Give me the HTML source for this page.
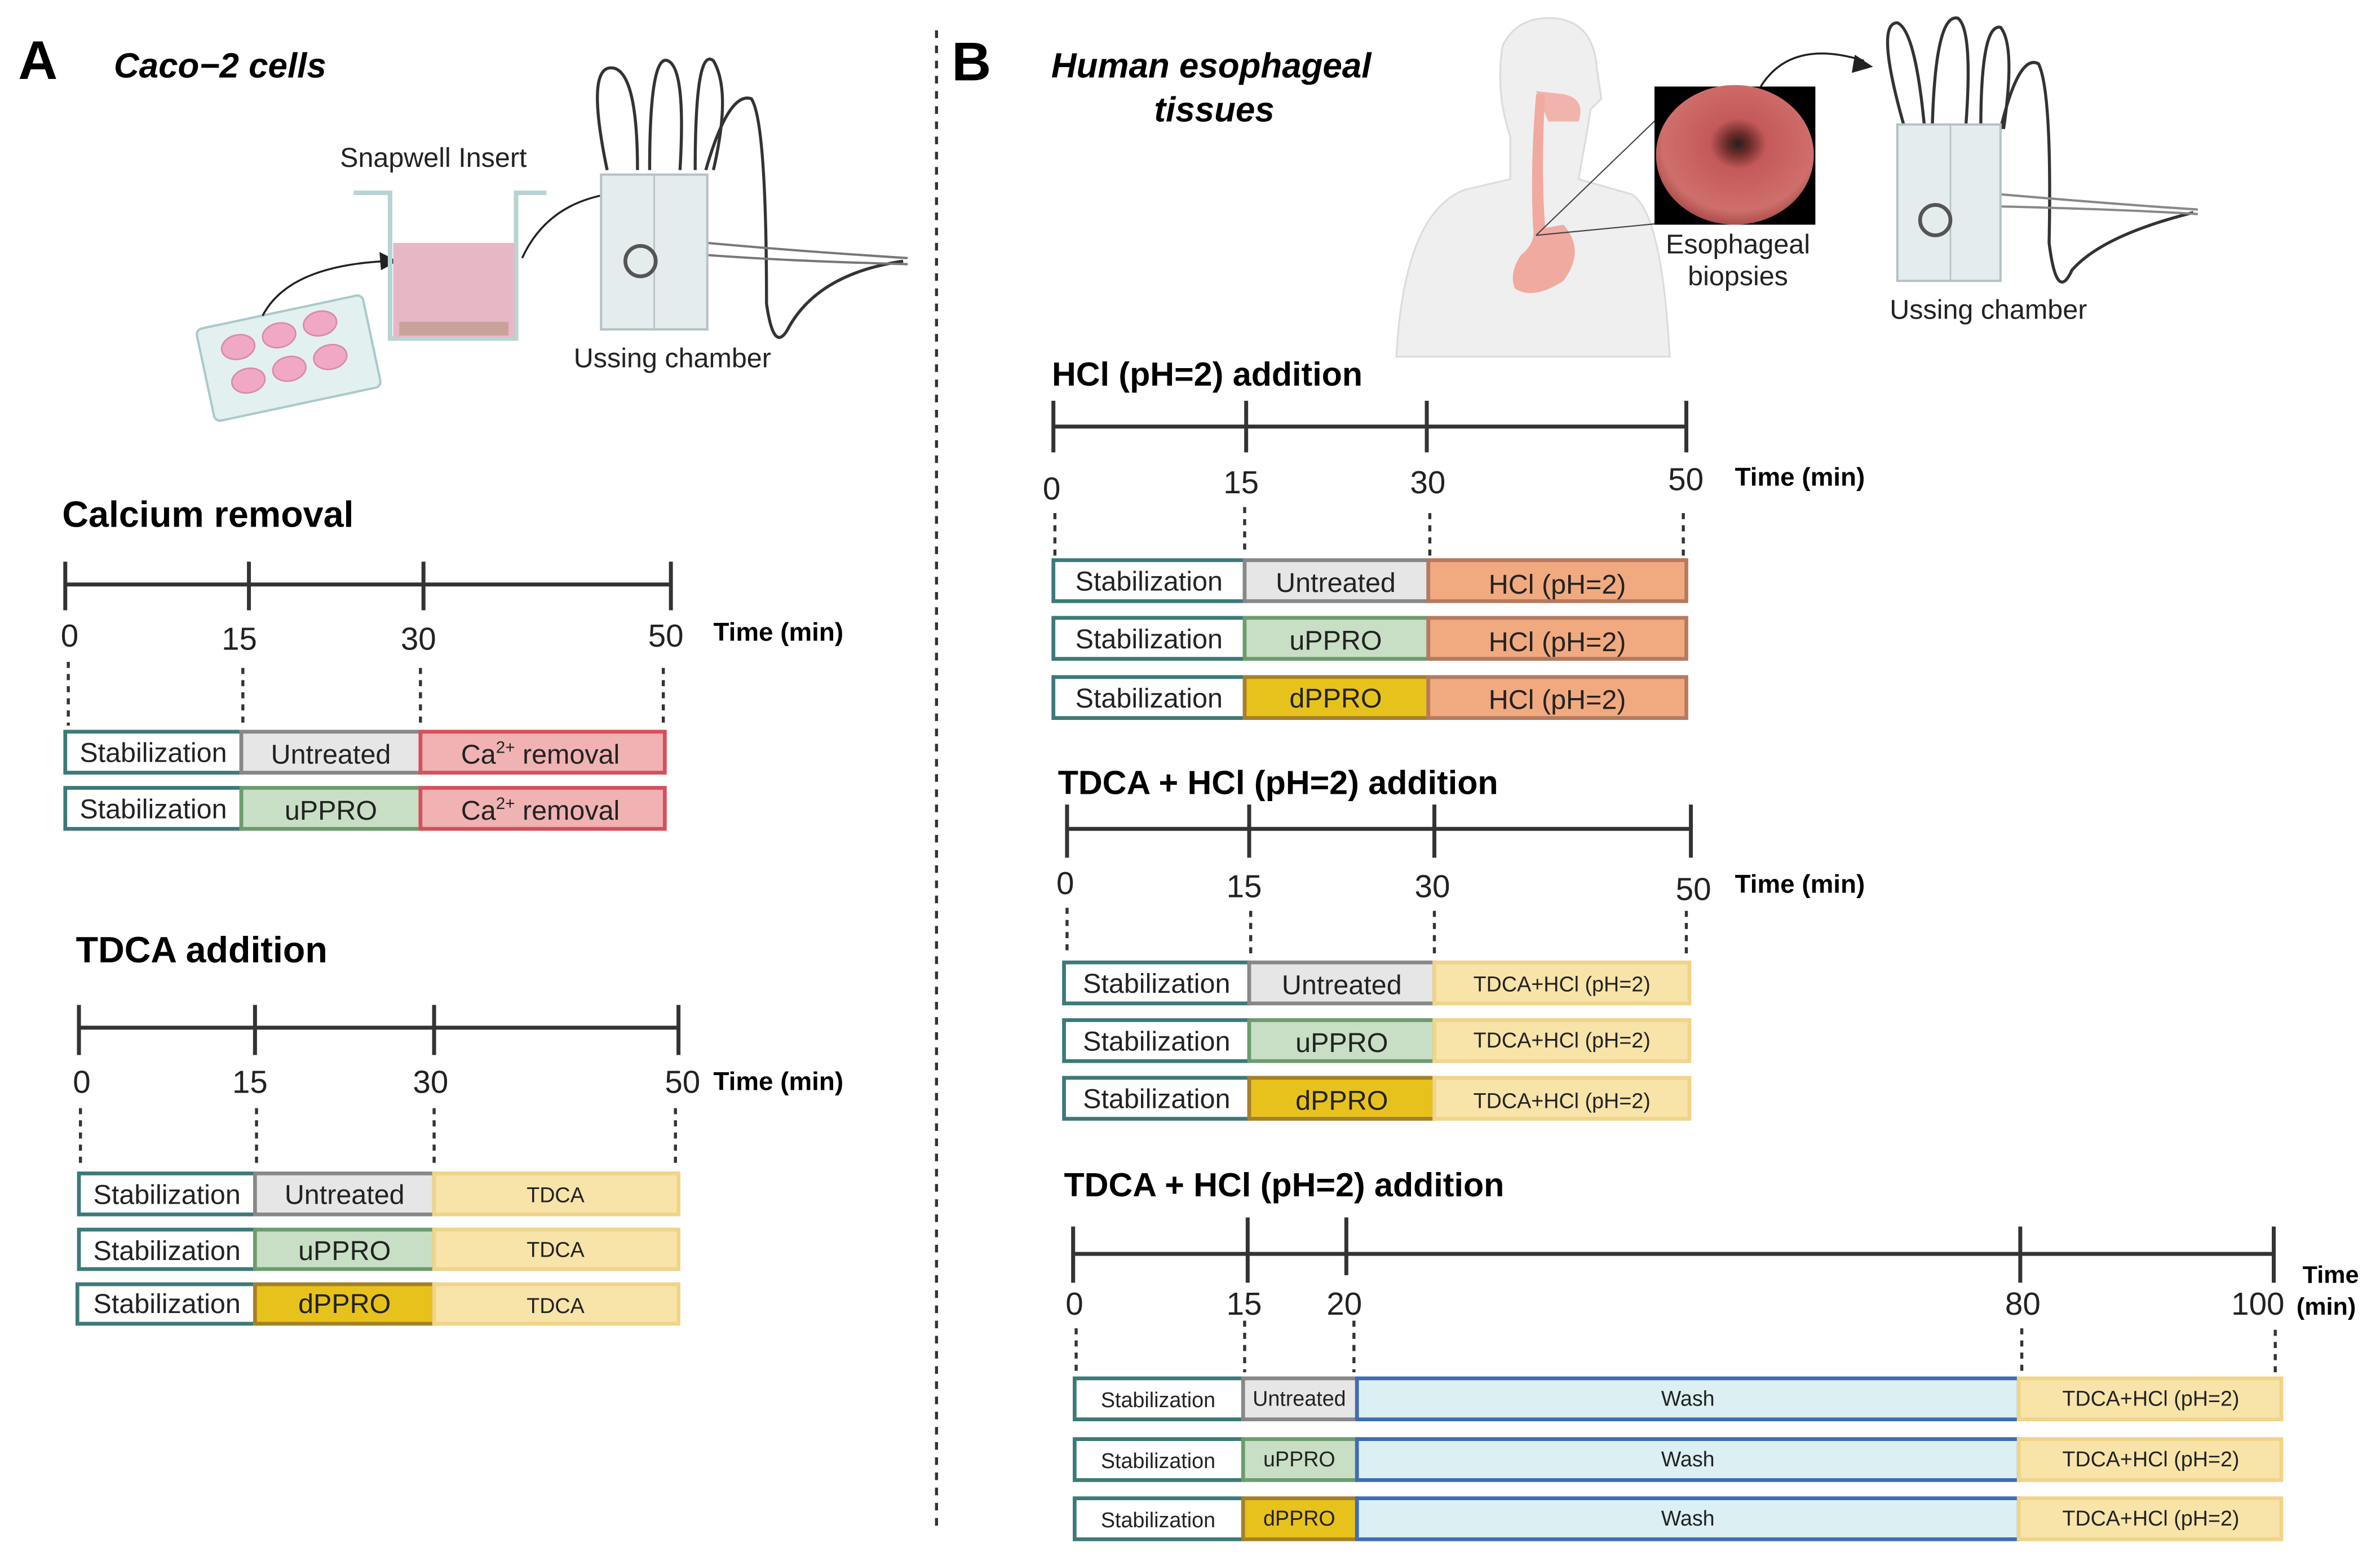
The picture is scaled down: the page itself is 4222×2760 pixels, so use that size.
<!DOCTYPE html>
<html><head><meta charset="utf-8"><style>
html,body{margin:0;padding:0;background:#fff}
svg{display:block}
text{font-family:"Liberation Sans",sans-serif}
.t{font-weight:bold;font-size:24px}
.n{font-size:21px;fill:#222}
.tm{font-weight:bold;font-size:17px}
.bx{font-size:18px;fill:#222;text-anchor:middle}
.sm{font-size:14px;fill:#222;text-anchor:middle}
.ax{stroke:#333;stroke-width:2.6;fill:none}
.dt{stroke:#333;stroke-width:2;stroke-dasharray:4 4}
.st{fill:#fff;stroke:#3b7a78;stroke-width:2.5}
.un{fill:#e6e6e6;stroke:#888;stroke-width:2.5}
.up{fill:#c8dfc5;stroke:#6c9c6e;stroke-width:2.5}
.dp{fill:#e8c21c;stroke:#a5802a;stroke-width:2.5}
.ca{fill:#f0b2b3;stroke:#d5505c;stroke-width:2.5}
.td{fill:#f8e4a9;stroke:#f0d488;stroke-width:2.5}
.hc{fill:#f1aa80;stroke:#b57a5f;stroke-width:2.5}
.wa{fill:#dcf0f4;stroke:#3f6db3;stroke-width:2.5}
</style></head><body>
<svg width="4222" height="2760" viewBox="0 0 1568 1025" xmlns="http://www.w3.org/2000/svg">
<rect width="1568" height="1025" fill="#fff"/>
<text x="12" y="52" style="font-weight:bold;font-size:36px">A</text>
<text x="75" y="51" style="font-weight:bold;font-style:italic;font-size:23px">Caco−2 cells</text>
<g transform="rotate(-12 190 240)">
<rect x="135" y="205" width="112" height="62" rx="4" fill="#e3f0f0" stroke="#aac9c9" stroke-width="1.5"/>
<g fill="#f0a8c4" stroke="#d98aa8" stroke-width="1">
<ellipse cx="160" cy="222" rx="11" ry="8"/><ellipse cx="188" cy="220" rx="11" ry="8"/><ellipse cx="216" cy="218" rx="11" ry="8"/>
<ellipse cx="162" cy="245" rx="11" ry="8"/><ellipse cx="190" cy="243" rx="11" ry="8"/><ellipse cx="218" cy="241" rx="11" ry="8"/>
</g></g>
<path d="M173 208 Q190 175 255 172" fill="none" stroke="#222" stroke-width="1.3"/>
<polygon points="262,172 250,166 251,178" fill="#222"/>
<text x="224" y="110" style="font-size:18px;fill:#222">Snapwell Insert</text>
<path d="M233 127 H257 V223 H340 V127 H360" fill="none" stroke="#b8d4d2" stroke-width="3"/>
<rect x="259" y="160" width="80" height="62" fill="#e8b7c6"/>
<rect x="263" y="212" width="72" height="9" fill="#c9a39a"/>
<path d="M344 170 Q360 135 400 128" fill="none" stroke="#222" stroke-width="1.3"/>
<polygon points="408,128 396,122 397,134" fill="#222"/>
<g>
<path d="M400 112 Q385 40 405 45 Q420 50 420 112 M428 112 Q428 35 440 40 Q452 45 448 112 M458 112 Q458 30 470 40 Q482 60 470 112 M465 112 Q480 60 495 65 Q505 80 505 200 Q510 235 520 215 Q540 180 595 172" fill="none" stroke="#333" stroke-width="2"/>
<path d="M466 160 Q520 165 598 170 M466 168 Q520 172 598 174" fill="none" stroke="#777" stroke-width="1.5"/>
<rect x="396" y="115" width="70" height="102" fill="#e5ecee" stroke="#b5c2c5" stroke-width="1.5"/>
<line x1="431" y1="115" x2="431" y2="217" stroke="#b5c2c5"/>
<circle cx="422" cy="172" r="10" fill="none" stroke="#555" stroke-width="2.5"/>
</g>
<text x="378" y="242" style="font-size:18px;fill:#222">Ussing chamber</text>

<text x="41" y="347" class="t">Calcium removal</text>
<path class="ax" d="M43 385 H442 M43 370 V402 M164 370 V402 M279 370 V402 M442 370 V402"/>
<text x="40" y="426" class="n">0</text><text x="146" y="428" class="n">15</text><text x="264" y="428" class="n">30</text><text x="427" y="426" class="n">50</text>
<text x="470" y="422" class="tm">Time (min)</text>
<path class="dt" d="M45 436 V478 M160 440 V478 M277 440 V478 M437 440 V478"/>
<rect x="43" y="482" width="116" height="27" class="st"/><rect x="159" y="482" width="118" height="27" class="un"/><rect x="277" y="482" width="161" height="27" class="ca"/>
<rect x="43" y="519" width="116" height="27" class="st"/><rect x="159" y="519" width="118" height="27" class="up"/><rect x="277" y="519" width="161" height="27" class="ca"/>
<text x="101" y="502" class="bx">Stabilization</text><text x="218" y="503" class="bx">Untreated</text><text x="356" y="503" class="bx">Ca<tspan font-size="11" dy="-7">2+</tspan><tspan dy="7"> removal</tspan></text>
<text x="101" y="539" class="bx">Stabilization</text><text x="218" y="540" class="bx">uPPRO</text><text x="356" y="540" class="bx">Ca<tspan font-size="11" dy="-7">2+</tspan><tspan dy="7"> removal</tspan></text>

<text x="50" y="634" class="t">TDCA addition</text>
<path class="ax" d="M52 677 H447 M52 662 V695 M168 662 V695 M286 662 V695 M447 662 V695"/>
<text x="48" y="720" class="n">0</text><text x="153" y="720" class="n">15</text><text x="272" y="720" class="n">30</text><text x="438" y="720" class="n">50</text>
<text x="470" y="718" class="tm">Time (min)</text>
<path class="dt" d="M53 730 V770 M169 730 V770 M286 730 V770 M445 730 V770"/>
<rect x="52" y="773" width="116" height="27" class="st"/><rect x="168" y="773" width="118" height="27" class="un"/><rect x="286" y="773" width="161" height="27" class="td"/>
<rect x="52" y="810" width="116" height="26" class="st"/><rect x="168" y="810" width="118" height="26" class="up"/><rect x="286" y="810" width="161" height="26" class="td"/>
<rect x="51" y="846" width="117" height="26" class="st"/><rect x="168" y="846" width="118" height="26" class="dp"/><rect x="286" y="846" width="161" height="26" class="td"/>
<text x="110" y="793" class="bx">Stabilization</text><text x="227" y="793" class="bx">Untreated</text><text x="366" y="792" class="sm">TDCA</text>
<text x="110" y="830" class="bx">Stabilization</text><text x="227" y="830" class="bx">uPPRO</text><text x="366" y="828" class="sm">TDCA</text>
<text x="110" y="865" class="bx">Stabilization</text><text x="227" y="865" class="bx">dPPRO</text><text x="366" y="865" class="sm">TDCA</text>

<line x1="617" y1="20" x2="617" y2="1005" stroke="#333" stroke-width="2" stroke-dasharray="5 5"/>

<text x="627" y="53" style="font-weight:bold;font-size:36px">B</text>
<text x="798" y="51" text-anchor="middle" style="font-weight:bold;font-style:italic;font-size:23px">Human esophageal</text>
<text x="800" y="80" text-anchor="middle" style="font-weight:bold;font-style:italic;font-size:23px">tissues</text>
<path d="M920 235 Q925 140 965 125 L995 118 L995 90 Q985 60 990 30 Q1000 10 1025 12 Q1050 15 1052 45 L1055 65 L1048 72 L1045 90 L1040 118 L1075 128 Q1095 140 1100 235 Z" fill="#efefef" stroke="#dcdcdc" stroke-width="1.2"/>
<path d="M1012 60 L1030 62 Q1045 65 1040 80 L1020 80 Z" fill="#f1b4ac"/>
<path d="M1012 62 Q1008 110 1010 150 Q1012 160 1002 168 Q994 180 998 190 Q1010 198 1030 185 Q1045 165 1030 148 Q1020 150 1018 150 Q1015 110 1018 62 Z" fill="#f0aaa0"/>
<line x1="1012" y1="155" x2="1095" y2="75" stroke="#444" stroke-width="0.8"/>
<line x1="1012" y1="155" x2="1095" y2="147" stroke="#444" stroke-width="0.8"/>
<defs><radialGradient id="g1" cx="0.52" cy="0.42" r="0.6"><stop offset="0" stop-color="#222"/><stop offset="0.12" stop-color="#6a2a28"/><stop offset="0.3" stop-color="#c4595a"/><stop offset="0.8" stop-color="#cf6f6b"/><stop offset="1" stop-color="#a44846"/></radialGradient></defs>
<rect x="1090" y="57" width="106" height="91" fill="#000"/>
<ellipse cx="1143" cy="102" rx="52" ry="46" fill="url(#g1)"/>
<text x="1145" y="167" text-anchor="middle" style="font-size:18px;fill:#222">Esophageal</text>
<text x="1145" y="188" text-anchor="middle" style="font-size:18px;fill:#222">biopsies</text>
<path d="M1160 57 Q1180 25 1228 40" fill="none" stroke="#222" stroke-width="1.3"/>
<polygon points="1234,44 1222,36 1220,48" fill="#222"/>
<path d="M1255 85 Q1235 15 1250 15 Q1262 20 1268 85 M1273 85 Q1275 8 1290 12 Q1300 20 1295 85 M1305 85 Q1305 15 1318 18 Q1328 30 1320 85 M1318 85 Q1330 35 1343 42 Q1352 60 1350 160 Q1355 200 1365 178 Q1385 155 1445 140" fill="none" stroke="#333" stroke-width="2"/>
<path d="M1318 128 Q1400 135 1448 138 M1318 136 Q1400 138 1448 141" fill="none" stroke="#888" stroke-width="1.5"/>
<rect x="1250" y="82" width="68" height="103" fill="#e5ecee" stroke="#b5c2c5" stroke-width="1.5"/>
<line x1="1285" y1="82" x2="1285" y2="185" stroke="#b5c2c5"/>
<circle cx="1275" cy="145" r="10" fill="none" stroke="#555" stroke-width="2.5"/>
<text x="1310" y="210" text-anchor="middle" style="font-size:18px;fill:#222">Ussing chamber</text>

<text x="693" y="254" style="font-weight:bold;font-size:22px">HCl (pH=2) addition</text>
<path class="ax" d="M694 281 H1111 M694 264 V298 M821 264 V298 M940 264 V298 M1111 264 V298"/>
<text x="687" y="329" class="n">0</text><text x="806" y="325" class="n">15</text><text x="929" y="325" class="n">30</text><text x="1099" y="323" class="n">50</text>
<text x="1143" y="320" class="tm">Time (min)</text>
<path class="dt" d="M695 338 V366 M820 334 V366 M942 338 V366 M1109 338 V366"/>
<rect x="694" y="369" width="126" height="27" class="st"/><rect x="820" y="369" width="121" height="27" class="un"/><rect x="941" y="369" width="170" height="27" class="hc"/>
<rect x="694" y="407" width="126" height="27" class="st"/><rect x="820" y="407" width="121" height="27" class="up"/><rect x="941" y="407" width="170" height="27" class="hc"/>
<rect x="694" y="446" width="126" height="27" class="st"/><rect x="820" y="446" width="121" height="27" class="dp"/><rect x="941" y="446" width="170" height="27" class="hc"/>
<text x="757" y="389" class="bx">Stabilization</text><text x="880" y="390" class="bx">Untreated</text><text x="1026" y="391" class="bx">HCl (pH=2)</text>
<text x="757" y="427" class="bx">Stabilization</text><text x="880" y="428" class="bx">uPPRO</text><text x="1026" y="429" class="bx">HCl (pH=2)</text>
<text x="757" y="466" class="bx">Stabilization</text><text x="880" y="466" class="bx">dPPRO</text><text x="1026" y="467" class="bx">HCl (pH=2)</text>

<text x="697" y="523" style="font-weight:bold;font-size:22px">TDCA + HCl (pH=2) addition</text>
<path class="ax" d="M703 546 H1114 M703 530 V565 M823 530 V565 M945 530 V565 M1114 530 V565"/>
<text x="696" y="589" class="n">0</text><text x="808" y="591" class="n">15</text><text x="932" y="591" class="n">30</text><text x="1104" y="593" class="n">50</text>
<text x="1143" y="588" class="tm">Time (min)</text>
<path class="dt" d="M703 598 V630 M824 600 V630 M945 600 V630 M1111 600 V630"/>
<rect x="701" y="634" width="122" height="27" class="st"/><rect x="823" y="634" width="122" height="27" class="un"/><rect x="945" y="634" width="168" height="27" class="td"/>
<rect x="701" y="672" width="122" height="27" class="st"/><rect x="823" y="672" width="122" height="27" class="up"/><rect x="945" y="672" width="168" height="27" class="td"/>
<rect x="701" y="710" width="122" height="27" class="st"/><rect x="823" y="710" width="122" height="27" class="dp"/><rect x="945" y="710" width="168" height="27" class="td"/>
<text x="762" y="654" class="bx">Stabilization</text><text x="884" y="655" class="bx">Untreated</text><text x="1029" y="653" class="sm">TDCA+HCl (pH=2)</text>
<text x="762" y="692" class="bx">Stabilization</text><text x="884" y="693" class="bx">uPPRO</text><text x="1029" y="690" class="sm">TDCA+HCl (pH=2)</text>
<text x="762" y="730" class="bx">Stabilization</text><text x="884" y="731" class="bx">dPPRO</text><text x="1029" y="730" class="sm">TDCA+HCl (pH=2)</text>

<text x="701" y="788" style="font-weight:bold;font-size:22px">TDCA + HCl (pH=2) addition</text>
<path class="ax" d="M707 826 H1497 M707 808 V845 M822 802 V845 M887 802 V840 M1331 808 V845 M1498 808 V845"/>
<text x="702" y="866" class="n">0</text><text x="808" y="866" class="n">15</text><text x="874" y="866" class="n">20</text><text x="1321" y="866" class="n">80</text><text x="1470" y="866" class="n">100</text>
<text x="1517" y="845" class="tm" style="font-size:16px">Time</text>
<text x="1513" y="866" class="tm" style="font-size:16px">(min)</text>
<path class="dt" d="M709 875 V904 M820 870 V904 M892 870 V904 M1332 875 V904 M1499 876 V904"/>
<rect x="708" y="908" width="111" height="27" class="st"/><rect x="819" y="908" width="75" height="27" class="un"/><rect x="894" y="908" width="436" height="27" class="wa"/><rect x="1330" y="908" width="173" height="27" class="td"/>
<rect x="708" y="948" width="111" height="27" class="st"/><rect x="819" y="948" width="75" height="27" class="up"/><rect x="894" y="948" width="436" height="27" class="wa"/><rect x="1330" y="948" width="173" height="27" class="td"/>
<rect x="708" y="987" width="111" height="27" class="st"/><rect x="819" y="987" width="75" height="27" class="dp"/><rect x="894" y="987" width="436" height="27" class="wa"/><rect x="1330" y="987" width="173" height="27" class="td"/>
<text x="763" y="927" class="sm">Stabilization</text><text x="856" y="926" class="sm">Untreated</text><text x="1112" y="926" class="sm">Wash</text><text x="1417" y="926" class="sm">TDCA+HCl (pH=2)</text>
<text x="763" y="967" class="sm">Stabilization</text><text x="856" y="966" class="sm">uPPRO</text><text x="1112" y="966" class="sm">Wash</text><text x="1417" y="966" class="sm">TDCA+HCl (pH=2)</text>
<text x="763" y="1006" class="sm">Stabilization</text><text x="856" y="1005" class="sm">dPPRO</text><text x="1112" y="1005" class="sm">Wash</text><text x="1417" y="1005" class="sm">TDCA+HCl (pH=2)</text>
</svg>
</body></html>
